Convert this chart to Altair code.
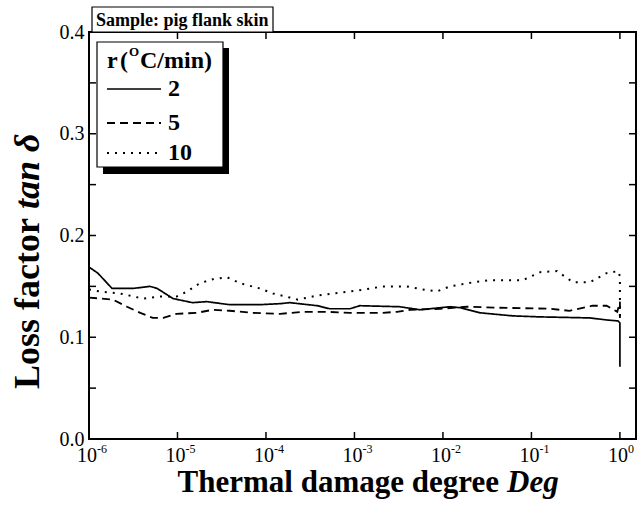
import altair as alt
import pandas as pd

# ---------------- data ----------------
rates = ["2", "5", "10"]

r2_log = [-6.0, -5.9, -5.74, -5.5, -5.31, -5.23, -5.05, -4.83, -4.67, -4.41, -4.07, -3.84,
          -3.73, -3.42, -3.28, -3.05, -2.94, -2.49, -2.26, -1.92, -1.8, -1.58, -1.21, -0.9,
          -0.34, -0.15, -0.02, 0.0, 0.0]
r2_tan = [0.169, 0.163, 0.148, 0.148, 0.150, 0.148, 0.138, 0.134, 0.135, 0.132, 0.132, 0.133,
          0.134, 0.131, 0.128, 0.128, 0.131, 0.130, 0.127, 0.130, 0.129, 0.124, 0.121, 0.120,
          0.119, 0.117, 0.116, 0.114, 0.071]

r5_log = [-6.0, -5.73, -5.57, -5.42, -5.28, -5.16, -5.01, -4.78, -4.6, -4.41, -4.15, -3.84,
          -3.58, -3.31, -3.05, -2.68, -2.52, -2.37, -2.03, -1.73, -1.36, -0.79, -0.57, -0.31,
          -0.15, -0.03, 0.0, 0.0]
r5_tan = [0.139, 0.137, 0.130, 0.124, 0.119, 0.119, 0.123, 0.124, 0.127, 0.126, 0.124, 0.123,
          0.125, 0.125, 0.124, 0.124, 0.125, 0.127, 0.128, 0.130, 0.129, 0.128, 0.126, 0.131,
          0.131, 0.125, 0.135, 0.119]

r10_log = [-6.0, -5.88, -5.65, -5.39, -5.2, -5.01, -4.89, -4.75, -4.6, -4.44, -4.29, -4.07,
           -3.92, -3.73, -3.64, -3.42, -3.24, -3.05, -2.88, -2.68, -2.41, -2.23, -2.07, -1.92,
           -1.66, -1.47, -1.1, -0.9, -0.71, -0.53, -0.34, -0.15, -0.02, 0.0, 0.0]
r10_tan = [0.147, 0.145, 0.143, 0.138, 0.140, 0.140, 0.145, 0.153, 0.157, 0.159, 0.153, 0.148,
           0.143, 0.139, 0.137, 0.141, 0.143, 0.145, 0.147, 0.150, 0.150, 0.147, 0.145, 0.150,
           0.154, 0.156, 0.156, 0.164, 0.165, 0.154, 0.154, 0.163, 0.165, 0.160, 0.120]

x_tick_exp = [-6, -5, -4, -3, -2, -1, 0]
y_major = [0.0, 0.1, 0.2, 0.3, 0.4]
y_minor = [0.05, 0.15, 0.25, 0.35]

# ---------------- build table ----------------
rows = []
for name, lg, tv in [("2", r2_log, r2_tan), ("5", r5_log, r5_tan), ("10", r10_log, r10_tan)]:
    for i, (a, b) in enumerate(zip(lg, tv)):
        rows.append({"r": name, "deg": 10 ** a, "tan": b, "idx": i})
df = pd.DataFrame(rows)

W, H = 547, 407
SERIF = "Liberation Serif"
TL = 7  # tick length
NB = "\u00a0"

xscale = alt.Scale(type="log", domain=[1e-6, 1.52], nice=False)
yscale = alt.Scale(domain=[0, 0.4], nice=False, zero=False)
dash_scale = alt.Scale(domain=rates, range=[[1, 0], [8, 5], [2, 6]])
width_scale = alt.Scale(domain=rates, range=[1.7, 2.0, 2.0])

lines = alt.Chart(df).mark_line(color="black", clip=True).encode(
    x=alt.X("deg:Q", scale=xscale, axis=None),
    y=alt.Y("tan:Q", scale=yscale,
            axis=alt.Axis(values=y_major, format=".1f", ticks=False, domain=False, grid=False,
                          labelFont=SERIF, labelFontSize=20, labelColor="black",
                          labelPadding=5, title=None)),
    strokeDash=alt.StrokeDash("r:N", scale=dash_scale, legend=None),
    strokeWidth=alt.StrokeWidth("r:N", scale=width_scale, legend=None),
    detail="r:N",
    order="idx:Q",
)

xt = pd.DataFrame({"deg": [10.0 ** e for e in x_tick_exp], "ex": [str(e) for e in x_tick_exp]})
xticks_b = alt.Chart(xt).mark_rule(color="black", strokeWidth=1.5).encode(
    x=alt.X("deg:Q", scale=xscale), y=alt.value(H), y2=alt.value(H - TL))
xticks_t = alt.Chart(xt).mark_rule(color="black", strokeWidth=1.5).encode(
    x=alt.X("deg:Q", scale=xscale), y=alt.value(0), y2=alt.value(TL))
xlab_base = alt.Chart(xt).mark_text(font=SERIF, fontSize=20, color="black", align="center",
                                    baseline="alphabetic", dx=-2).encode(
    x=alt.X("deg:Q", scale=xscale), y=alt.value(H + 23), text=alt.value("10"))
xlab_exp = alt.Chart(xt).mark_text(font=SERIF, fontSize=12, color="black", align="left",
                                   baseline="alphabetic", dx=8).encode(
    x=alt.X("deg:Q", scale=xscale), y=alt.value(H + 14), text="ex:N")

yt = pd.DataFrame({"tan": y_major + y_minor})
yticks_l = alt.Chart(yt).mark_rule(color="black", strokeWidth=1.5).encode(
    y=alt.Y("tan:Q", scale=yscale), x=alt.value(0), x2=alt.value(TL))
yticks_r = alt.Chart(yt).mark_rule(color="black", strokeWidth=1.5).encode(
    y=alt.Y("tan:Q", scale=yscale), x=alt.value(W - TL), x2=alt.value(W))

one = alt.Data(values=[{"a": 1}])


def txt(s, x, y, size, style="normal", align="left", angle=0, weight="bold", baseline="alphabetic"):
    kw = dict(font=SERIF, fontSize=size, fontWeight=weight, fontStyle=style, color="black",
              align=align, baseline=baseline, text=s)
    if angle:
        kw["angle"] = angle
    return alt.Chart(one).mark_text(**kw).encode(x=alt.value(x), y=alt.value(y))


def box(x1, x2, y1, y2, fill, stroke=None, sw=0):
    kw = dict(fill=fill)
    if stroke:
        kw.update(stroke=stroke, strokeWidth=sw)
    return alt.Chart(one).mark_rect(**kw).encode(
        x=alt.value(x1), x2=alt.value(x2), y=alt.value(y1), y2=alt.value(y2))


# axis titles (two pieces each: upright + italic)
ytitle_a = txt("Loss factor", -50, 186, 36, align="right", angle=270)
ytitle_b = txt("tan" + NB + "δ", -50, 177, 36, style="italic", align="left", angle=270)
xtitle_a = txt("Thermal damage degree", 410, 460, 31, align="right")
xtitle_b = txt("Deg", 418, 460, 31, style="italic", align="left")

# sample box
sample_box = box(3, 184, -25, 0, "white", "black", 1.2)
sample_txt = txt("Sample: pig flank skin", 7, -6, 18)

# legend
leg_shadow = box(14, 140, 16, 142, "black")
leg_box = box(8, 134, 10, 135, "white", "black", 1.2)
leg_t1 = txt("r", 18, 36, 24)
leg_t1b = txt("(", 31, 36, 24)
leg_t2 = txt("O", 40, 24, 13)
leg_t3 = txt("C/min)", 51, 36, 24)
leg_rows = pd.DataFrame({"r": rates, "yy": [57, 91, 121]})
leg_lines = alt.Chart(leg_rows).mark_rule(color="black").encode(
    x=alt.value(18), x2=alt.value(72), y=alt.Y("yy:Q", scale=None),
    strokeDash=alt.StrokeDash("r:N", scale=dash_scale, legend=None),
    strokeWidth=alt.StrokeWidth("r:N", scale=width_scale, legend=None),
)
leg_labels = alt.Chart(leg_rows).mark_text(font=SERIF, fontSize=24, fontWeight="bold", color="black",
                                           align="left", baseline="middle").encode(
    x=alt.value(79), y=alt.Y("yy:Q", scale=None), text="r:N")

chart = alt.layer(
    lines, xticks_b, xticks_t, xlab_base, xlab_exp, yticks_l, yticks_r,
    ytitle_a, ytitle_b, xtitle_a, xtitle_b,
    sample_box, sample_txt, leg_shadow, leg_box, leg_t1, leg_t1b, leg_t2, leg_t3,
    leg_lines, leg_labels,
).properties(
    width=W, height=H,
    autosize=alt.AutoSizeParams(type="none"),
    padding={"left": 89, "top": 32, "right": 8, "bottom": 67},
    background="white",
).configure_view(stroke="black", strokeWidth=2)

chart.save("out.html", embed_options={"renderer": "svg", "actions": False})
